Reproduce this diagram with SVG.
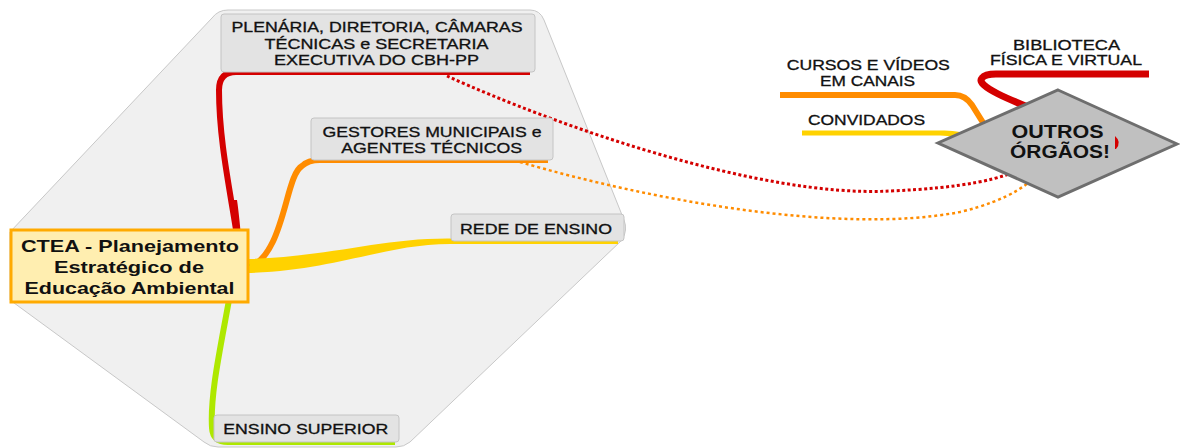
<svg xmlns="http://www.w3.org/2000/svg" width="1180" height="448" viewBox="0 0 1180 448">
<defs>
<style>
.lbl{font-family:"Liberation Sans",Arial,sans-serif;font-size:14px;fill:#111;stroke:#111;stroke-width:0.3;text-anchor:middle}
.root{font-family:"Liberation Sans",Arial,sans-serif;font-size:17px;font-weight:bold;fill:#111;text-anchor:middle}
.big{font-family:"Liberation Sans",Arial,sans-serif;font-size:18px;font-weight:bold;fill:#111;text-anchor:middle}
.box{fill:#e3e3e3;stroke:#c4c4c4;stroke-width:1}
.br{fill:none;stroke-linecap:butt;stroke-linejoin:round}
</style>
</defs>
<rect width="1180" height="448" fill="#ffffff"/>
<path d="M228 10 L530 10 Q540 10 544 20 L624 220 Q628 230 622 240 L410 442 Q404 447 396 447 L218 447 Q210 447 204 442 L10 300 L10 232 L212 18 Q218 10 228 10 Z" fill="#f0f0f0" stroke="#c8c8c8" stroke-width="1"/>
<g id="connectors">
<path class="br" d="M237 236 C230 190 219 140 219 90 Q219 72 236 72 L530 72" stroke="#d40000" stroke-width="6"/>
<path d="M231 200 C233 215 234 225 235 236 L241 236 C240 225 239 214 237 200 Z" fill="#d40000"/>
<path class="br" d="M248 268 C285 255 285 175 302 166 Q308 160 320 160 L548 160" stroke="#ff8c00" stroke-width="6"/>
<path d="M246 259 C330 257 380 238 450 238.5 L618 238.5 L618 244 L450 244 C385 244 335 271 246 273 Z" fill="#ffd200"/>
<path class="br" d="M229 300 C220 350 210 395 212 428 Q213 442 228 442 L395 442" stroke="#aee800" stroke-width="6"/>
<path d="M244 258 L250 265 L244 272 Z" fill="#aee800"/>
<path class="br" d="M1045 114 C1010 100 975 86 982 78 Q985 74 996 74 L1149 74" stroke="#d40000" stroke-width="7"/>
<path class="br" d="M780 95 L955 95 Q965 95 972 105 L992 137" stroke="#ff8c00" stroke-width="6"/>
<path d="M802 130.5 L940 130.5 C965 130.5 975 137 1000 137 L1000 148 C975 148 960 135.5 940 135.5 L802 135.5 Z" fill="#ffd200"/>
<path class="br" d="M447 76 C555 125 760 198 890 191 C960 188 1005 180 1030 164" stroke="#d40000" stroke-width="3" stroke-dasharray="3 2.5"/>
<path class="br" d="M520 162 C650 200 840 235 960 212 C1010 200 1035 182 1045 164" stroke="#ff8c00" stroke-width="2.5" stroke-dasharray="3 3"/>
</g>
<g id="n-ctea">
<rect x="11" y="230" width="237" height="72" fill="#ffeeb0" stroke="#ffaa00" stroke-width="3"/>
<text class="root" x="130" y="252" textLength="218" lengthAdjust="spacingAndGlyphs">CTEA - Planejamento</text>
<text class="root" x="129" y="273" textLength="150" lengthAdjust="spacingAndGlyphs">Estratégico de</text>
<text class="root" x="129.5" y="294" textLength="210" lengthAdjust="spacingAndGlyphs">Educação Ambiental</text>
</g>
<g id="n-plenaria">
<rect class="box" x="221" y="14" width="314" height="58" rx="3"/>
<text class="lbl" x="377" y="32" textLength="291" lengthAdjust="spacingAndGlyphs">PLENÁRIA, DIRETORIA, CÂMARAS</text>
<text class="lbl" x="376.5" y="48.5" textLength="224" lengthAdjust="spacingAndGlyphs">TÉCNICAS e SECRETARIA</text>
<text class="lbl" x="376.5" y="64.5" textLength="205" lengthAdjust="spacingAndGlyphs">EXECUTIVA DO CBH-PP</text>
</g>
<g id="n-gestores">
<rect class="box" x="311" y="118" width="242" height="42" rx="3"/>
<text class="lbl" x="432" y="136.5" textLength="219" lengthAdjust="spacingAndGlyphs">GESTORES MUNICIPAIS e</text>
<text class="lbl" x="431.7" y="153" textLength="181" lengthAdjust="spacingAndGlyphs">AGENTES TÉCNICOS</text>
</g>
<g id="n-rede">
<rect class="box" x="451" y="214" width="173" height="27" rx="3"/>
<text class="lbl" x="536" y="234" textLength="152" lengthAdjust="spacingAndGlyphs">REDE DE ENSINO</text>
</g>
<g id="n-superior">
<rect class="box" x="214" y="415" width="185" height="27" rx="3"/>
<text class="lbl" x="305.8" y="434" textLength="165" lengthAdjust="spacingAndGlyphs">ENSINO SUPERIOR</text>
</g>
<g id="n-outros">
<polygon points="1058,90 1177,144 1058,197 938,143" fill="#c0c0c0" stroke="#6e6e6e" stroke-width="3"/>
<text class="big" x="1057.5" y="138" textLength="92" lengthAdjust="spacingAndGlyphs">OUTROS</text>
<text class="big" x="1060" y="158" textLength="100" lengthAdjust="spacingAndGlyphs">ÓRGÃOS!</text>
<path d="M1115 136 Q1122 142 1116 149 L1115 149 Z" fill="#d40000"/>
</g>
<g id="n-biblioteca">
<text class="lbl" x="1066.5" y="50" textLength="107" lengthAdjust="spacingAndGlyphs">BIBLIOTECA</text>
<text class="lbl" x="1066" y="65" textLength="152" lengthAdjust="spacingAndGlyphs">FÍSICA E VIRTUAL</text>
</g>
<g id="n-cursos">
<text class="lbl" x="868.3" y="70" textLength="163" lengthAdjust="spacingAndGlyphs">CURSOS E VÍDEOS</text>
<text class="lbl" x="867.5" y="86" textLength="95" lengthAdjust="spacingAndGlyphs">EM CANAIS</text>
</g>
<g id="n-convidados">
<text class="lbl" x="866.5" y="125" textLength="117" lengthAdjust="spacingAndGlyphs">CONVIDADOS</text>
</g>
</svg>
